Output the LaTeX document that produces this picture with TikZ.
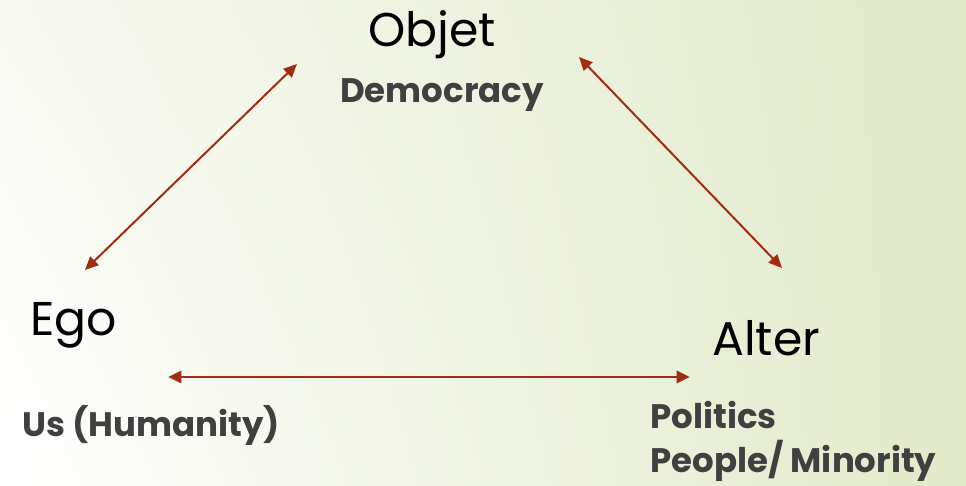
\documentclass[tikz,border=0pt]{standalone}
\usepackage{fontspec}
\setmainfont{Poppins}
\usetikzlibrary{arrows.meta, shadings}
\definecolor{linkred}{RGB}{160,45,18}
\definecolor{subgray}{RGB}{64,64,64}
\definecolor{bggreen}{RGB}{226,234,202}
\definecolor{bgtopleft}{RGB}{248,249,242}

\begin{document}
\begin{tikzpicture}[x=0.75pt, y=-0.75pt,
		every node/.style={inner sep=0pt, anchor=base west},
		pole/.style={font=\fontsize{35.5}{40}\selectfont, text=black},
		sub/.style={font=\fontsize{25.5}{30}\selectfont\bfseries, text=subgray},
		link/.style={draw=linkred, line width=1.5pt,
			{Triangle[length=10pt, width=9pt]}-{Triangle[length=10pt, width=9pt]}}]
	\shade[upper left=bgtopleft, lower left=white, upper right=bggreen, lower right=bggreen]
		(0,0) rectangle (966,485);
	\useasboundingbox (0,0) rectangle (966,485);

	\node[pole] (objet) at (368,47) {Objet};
	\node[sub] (democracy) at (340,102) {Democracy};
	\node[pole] (ego) at (30,335) {Ego};
	\node[sub] (us) at (22,436) {Us (Humanity)};
	\node[pole] (alter) at (712,355) {Alter};
	\node[sub] (politics) at (650,428) {Politics};
	\node[sub] (people) at (650,472) {People/ Minority};

	\coordinate (ego-top) at (85,270);
	\coordinate (objet-left) at (297,64);
	\coordinate (objet-right) at (579,57);
	\coordinate (alter-top) at (782,268);
	\coordinate (ego-right) at (168,377);
	\coordinate (alter-left) at (690,377);

	\draw[link] (ego-top) -- (objet-left);
	\draw[link] (objet-right) -- (alter-top);
	\draw[link, line width=2.2pt] (ego-right) -- (alter-left);
\end{tikzpicture}
\end{document}
